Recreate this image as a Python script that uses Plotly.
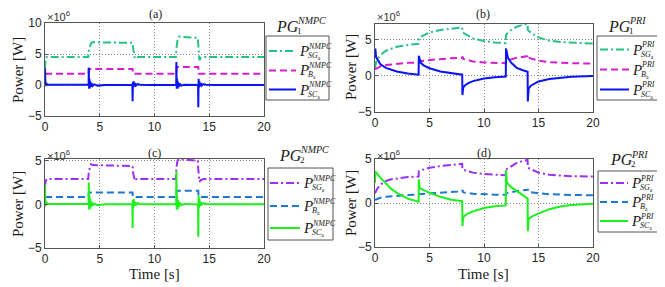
import plotly.graph_objects as go

W, H = 665, 287
OFF = 8  # page body margin of the browser

# ---------------- data (values in units of 1e6 W) ----------------
# Panel (a) PG1 NMPC
t_a_sg = [0, 0.05, 0.15, 3.95, 4.0, 4.1, 4.2, 4.35, 8.0, 8.05, 8.2, 8.35, 11.95, 12.0, 12.1, 12.25, 13.95, 14.0, 14.1, 14.25, 14.5, 20]
y_a_sg = [2.6, 4.0, 4.5, 4.5, 5.5, 6.3, 6.7, 6.9, 6.8, 6.0, 4.3, 4.5, 4.5, 5.8, 7.3, 7.8, 7.6, 6.5, 4.0, 4.4, 4.5, 4.5]
t_a_b = [0, 3.98, 4.0, 8.0, 8.02, 12.0, 12.02, 14.0, 14.02, 20]
y_a_b = [1.8, 1.8, 2.6, 2.6, 1.8, 1.8, 2.9, 2.9, 1.8, 1.8]
t_a_sc = [0, 0.02, 0.05, 0.1, 0.2, 3.98, 4.0, 4.03, 4.06, 4.09, 4.13, 4.18, 4.25, 4.35, 4.5, 4.8, 5.5,
          7.98, 8.0, 8.03, 8.06, 8.1, 8.15, 8.22, 8.3, 8.45, 8.7, 9.5,
          11.98, 12.0, 12.03, 12.06, 12.1, 12.15, 12.22, 12.3, 12.45, 12.7,
          13.98, 14.0, 14.03, 14.06, 14.1, 14.15, 14.22, 14.3, 14.45, 14.7, 15.5, 20]
y_a_sc = [2.7, 0.8, -0.2, 0.3, 0.05, 0.05, 2.8, -0.6, 1.0, -0.5, 0.6, -0.3, 0.3, -0.15, 0.1, -0.1, 0.0,
          0.0, -2.6, 0.5, -0.4, 0.6, -0.2, 0.3, -0.1, 0.15, 0.05, 0.0,
          0.0, 3.7, -0.6, 1.0, -0.6, 0.5, -0.3, 0.2, -0.1, 0.05,
          0.0, -3.6, 1.0, -0.4, 0.6, -0.2, 0.3, -0.1, 0.15, 0.05, 0.0, 0.0]

# Panel (b) PG1 PRI
t_b_sg = [0, 0.1, 0.3, 0.5, 1, 1.5, 2, 3, 4, 4.02, 4.3, 5, 6, 7, 8, 8.02, 8.3, 9, 10, 11, 12,
          12.02, 12.3, 12.6, 13, 13.5, 14, 14.02, 14.3, 15, 16, 17, 18, 20]
y_b_sg = [1.0, 1.9, 2.5, 2.9, 3.5, 3.8, 4.05, 4.3, 4.45, 5.3, 5.5, 6.05, 6.4, 6.6, 6.75, 6.1, 5.8, 5.2, 4.85, 4.65, 4.55,
          5.7, 6.2, 6.5, 6.85, 7.1, 7.25, 6.4, 6.0, 5.35, 4.9, 4.7, 4.6, 4.5]
t_b_b = [0, 0.5, 1, 2, 3, 4, 4.02, 5, 6, 7, 8, 8.02, 8.1, 8.3, 9, 10, 11, 12,
         12.02, 13, 14, 14.02, 14.1, 14.3, 15, 16, 17, 18, 20]
y_b_b = [0.9, 1.3, 1.5, 1.7, 1.8, 1.85, 2.0, 2.2, 2.35, 2.45, 2.5, 2.7, 2.35, 2.25, 2.0, 1.85, 1.78, 1.75,
         2.1, 2.5, 2.75, 2.9, 2.5, 2.4, 2.1, 1.9, 1.8, 1.75, 1.7]
t_b_sc = [0, 0.03, 0.1, 0.3, 0.5, 1, 1.5, 2, 3, 4, 4.02, 4.2, 4.5, 5, 6, 7, 8,
          8.02, 8.1, 8.3, 8.6, 9, 10, 11, 12, 12.02, 12.2, 12.5, 13, 13.5, 14,
          14.02, 14.1, 14.3, 14.6, 15, 16, 17, 18, 20]
y_b_sc = [2.5, 3.8, 2.6, 2.0, 1.6, 1.1, 0.8, 0.6, 0.3, 0.15, 2.8, 1.8, 1.4, 1.05, 0.6, 0.35, 0.15,
          -2.7, -1.6, -1.3, -1.0, -0.75, -0.4, -0.2, -0.1, 3.8, 2.5, 1.8, 1.1, 0.8, 0.55,
          -3.6, -1.8, -1.4, -1.1, -0.8, -0.45, -0.25, -0.15, -0.05]

# Panel (c) PG2 NMPC
t_c_sg = [0, 0.05, 0.15, 3.95, 4.0, 4.1, 4.2, 4.35, 8.0, 8.05, 8.2, 8.35, 11.95, 12.0, 12.1, 12.25, 13.95, 14.0, 14.1, 14.25, 14.5, 20]
y_c_sg = [2.0, 2.6, 2.9, 2.9, 3.8, 4.4, 4.6, 4.5, 4.4, 3.6, 2.7, 2.9, 2.9, 4.2, 5.0, 5.2, 5.0, 4.0, 2.6, 2.8, 2.9, 2.9]
t_c_b = [0, 3.98, 4.0, 8.0, 8.02, 12.0, 12.02, 14.0, 14.02, 20]
y_c_b = [0.85, 0.85, 1.35, 1.35, 0.85, 0.85, 1.55, 1.55, 0.85, 0.85]
t_c_sc = [0, 0.02, 0.05, 0.1, 0.2, 3.98, 4.0, 4.03, 4.06, 4.09, 4.13, 4.18, 4.25, 4.35, 4.5, 4.8, 5.5,
          7.98, 8.0, 8.03, 8.06, 8.1, 8.15, 8.22, 8.3, 8.45, 8.7, 9.5,
          11.98, 12.0, 12.03, 12.06, 12.1, 12.15, 12.22, 12.3, 12.45, 12.7,
          13.98, 14.0, 14.03, 14.06, 14.1, 14.15, 14.22, 14.3, 14.45, 14.7, 15.5, 20]
y_c_sc = [2.3, 0.8, -0.2, 0.3, 0.05, 0.05, 2.5, -0.6, 1.0, -0.5, 0.6, -0.3, 0.3, -0.15, 0.1, -0.1, 0.0,
          0.0, -2.7, 0.5, -0.4, 0.6, -0.2, 0.3, -0.1, 0.15, 0.05, 0.0,
          0.0, 3.8, -0.6, 1.0, -0.6, 0.5, -0.3, 0.2, -0.1, 0.05,
          0.0, -3.7, 1.0, -0.4, 0.6, -0.2, 0.3, -0.1, 0.15, 0.05, 0.0, 0.0]

# Panel (d) PG2 PRI
t_d_sg = [0, 0.2, 0.5, 1, 1.5, 2, 3, 4, 4.02, 4.3, 5, 6, 7, 8, 8.02, 8.3, 9, 10, 11, 12,
          12.02, 12.5, 13, 13.5, 14, 14.02, 14.3, 15, 16, 17, 18, 20]
y_d_sg = [1.1, 1.6, 2.1, 2.5, 2.7, 2.8, 2.95, 3.0, 3.6, 3.75, 4.0, 4.2, 4.35, 4.45, 3.8, 3.7, 3.45, 3.3, 3.2, 3.15,
          3.8, 4.2, 4.55, 4.75, 4.9, 4.0, 3.85, 3.45, 3.2, 3.1, 3.05, 3.0]
t_d_b = [0, 0.5, 1, 2, 3, 4, 4.02, 5, 6, 7, 8, 8.02, 8.1, 9, 10, 11, 12, 12.02, 13, 14, 14.02, 14.1, 15, 16, 18, 20]
y_d_b = [0.35, 0.6, 0.7, 0.85, 0.92, 0.95, 1.0, 1.1, 1.2, 1.27, 1.32, 1.5, 1.2, 1.05, 0.98, 0.95, 0.93,
         1.1, 1.35, 1.5, 1.6, 1.25, 1.1, 1.0, 0.92, 0.88]
t_d_sc = [0, 0.03, 0.5, 1, 1.5, 2, 3, 4, 4.02, 4.1, 4.5, 5, 6, 7, 8, 8.02, 8.1, 8.5, 9, 10, 11, 12,
          12.02, 12.1, 12.5, 13, 13.5, 14, 14.02, 14.1, 14.5, 15, 16, 17, 18, 20]
y_d_sc = [2.3, 3.6, 2.85, 2.2, 1.6, 1.15, 0.5, 0.15, 2.7, 1.7, 1.45, 1.15, 0.7, 0.38, 0.2, -2.6, -1.6, -1.2,
          -0.95, -0.57, -0.38, -0.27, 3.75, 2.3, 1.8, 1.4, 0.9, 0.5, -3.2, -1.8, -1.45, -1.2, -0.7, -0.4, -0.23, -0.08]

x_ticks = [0, 5, 10, 15, 20]
y_ticks_a = [-5, 0, 5, 10]
y_ticks = [-5, 0, 5]
panel_labels = ["(a)", "(b)", "(c)", "(d)"]
legend_titles = [("1", "NMPC"), ("1", "PRI"), ("2", "NMPC"), ("2", "PRI")]

# ---------------- styles ----------------
C_GREEN = "#24c285"
C_MAG = "#d21fd2"
C_BLUE = "#0a14f5"
C_PURP = "#9a30f5"
C_SKY = "#1c78d0"
C_LIME = "#1ef01e"
DASHDOT = "8px,3px,2px,3px"
DASH = "7px,4px"
LW = 2

def px(x):
    return (x - OFF) / W

def py(y):
    return 1 - (y - OFF) / H

SERIF = "Liberation Serif"
SANS = "Liberation Sans"

fig = go.Figure()

panels = [
    dict(t=[t_a_sg, t_a_b, t_a_sc], y=[y_a_sg, y_a_b, y_a_sc], colors=[C_GREEN, C_MAG, C_BLUE],
         xd=(45, 264), yd=(23, 116), yr=[-5, 10], yt=y_ticks_a),
    dict(t=[t_b_sg, t_b_b, t_b_sc], y=[y_b_sg, y_b_b, y_b_sc], colors=[C_GREEN, C_MAG, C_BLUE],
         xd=(375, 593), yd=(23.5, 111.5), yr=[-5, 7.3], yt=y_ticks),
    dict(t=[t_c_sg, t_c_b, t_c_sc], y=[y_c_sg, y_c_b, y_c_sc], colors=[C_PURP, C_SKY, C_LIME],
         xd=(45, 264), yd=(159, 248), yr=[-5, 5.2], yt=y_ticks),
    dict(t=[t_d_sg, t_d_b, t_d_sc], y=[y_d_sg, y_d_b, y_d_sc], colors=[C_PURP, C_SKY, C_LIME],
         xd=(375, 593), yd=(159, 247), yr=[-5, 5.0], yt=y_ticks),
]
dashes = [DASHDOT, DASH, "solid"]
subs = ["<i>SG</i><sub>a</sub>", "<i>B</i><sub>a</sub>", "<i>SC</i><sub>a</sub>"]

layout_axes = {}
for i, p in enumerate(panels):
    n = "" if i == 0 else str(i + 1)
    for k in range(3):
        fig.add_trace(go.Scatter(x=p["t"][k], y=p["y"][k], mode="lines", showlegend=False,
                                 line=dict(color=p["colors"][k], width=LW, dash=dashes[k]),
                                 xaxis="x" + n, yaxis="y" + n))
    common = dict(showline=True, mirror=True, linecolor="#555", linewidth=1,
                  ticks="inside", ticklen=3, tickcolor="#555", automargin=False,
                  showgrid=True, gridcolor="#8a8a8a", griddash="1px,2px", gridwidth=1,
                  zeroline=False, tickfont=dict(family=SANS, size=12, color="#262626"))
    layout_axes["xaxis" + n] = dict(domain=[px(p["xd"][0]), px(p["xd"][1])], range=[0, 20],
                                    tickvals=x_ticks, anchor="y" + n, **common)
    layout_axes["yaxis" + n] = dict(domain=[py(p["yd"][1]), py(p["yd"][0])], range=p["yr"],
                                    tickvals=p["yt"], anchor="x" + n, **common)

annotations = []
shapes = []

def ann(x, y, text, size, family=SERIF, xanchor="center", yanchor="middle", angle=0, color="#1a1a1a"):
    annotations.append(dict(x=px(x), y=py(y), xref="paper", yref="paper", text=text, showarrow=False,
                            font=dict(family=family, size=size, color=color), xanchor=xanchor,
                            yanchor=yanchor, textangle=angle, borderpad=0))

# panel labels, multipliers, axis titles
title_pos = [(155, 14), (483, 14), (154, 153), (484, 153)]
mult_pos = [(46, 16), (376, 16), (46, 155), (376, 155)]
ylab_pos = [(18, 70), (351, 67), (18, 204), (351, 203)]
for i in range(4):
    ann(*title_pos[i], panel_labels[i], 12)
    ann(*mult_pos[i], "×10<sup>6</sup>", 11, family=SANS, xanchor="left", color="#333")
    ann(*ylab_pos[i], "Power [W]", 15, angle=-90)
ann(154, 274, "Time [s]", 15)
ann(483, 274, "Time [s]", 15)

# legends
leg_box = [(266, 36, 329, 100), (597, 36, 662, 100), (268, 168, 333, 240), (598, 171, 662, 232)]
leg_samp = [(269, 296), (600, 629), (270, 300), (600, 628)]
leg_rows = [(51, 70.5, 89.5), (49.5, 69.5, 89.5), (183, 206, 228), (183, 202, 221)]
leg_title = [(275, 26), (607, 26), (278, 155), (609, 159)]
for i, p in enumerate(panels):
    x0, y0, x1, y1 = leg_box[i]
    shapes.append(dict(type="rect", xref="paper", yref="paper", x0=px(x0), x1=px(x1), y0=py(y1), y1=py(y0),
                       line=dict(color="#555", width=1), fillcolor="white"))
    sx0, sx1 = leg_samp[i]
    sup = legend_titles[i][1]
    for k in range(3):
        yy = leg_rows[i][k]
        shapes.append(dict(type="line", xref="paper", yref="paper", x0=px(sx0), x1=px(sx1), y0=py(yy), y1=py(yy),
                           line=dict(color=p["colors"][k], width=LW, dash=dashes[k])))
        xp = sx1 + 2
        ann(xp, yy, "<i>P</i>", 15, xanchor="left")
        ann(xp + 9, yy - 5, "<i>%s</i>" % sup, 8, xanchor="left")
        ann(xp + 9, yy + 5, subs[k], 8, xanchor="left")
    tx, ty = leg_title[i]
    ann(tx, ty, "<i>PG</i>", 16, xanchor="left")
    ann(tx + 21, ty - 5, "<i>%s</i>" % sup, 10, xanchor="left")
    ann(tx + 21, ty + 4.5, legend_titles[i][0], 9, xanchor="left")

fig.update_layout(width=W, height=H, margin=dict(l=0, r=0, t=0, b=0),
                  paper_bgcolor="white", plot_bgcolor="white", showlegend=False,
                  annotations=annotations, shapes=shapes, **layout_axes)

fig.write_html("out.html")
